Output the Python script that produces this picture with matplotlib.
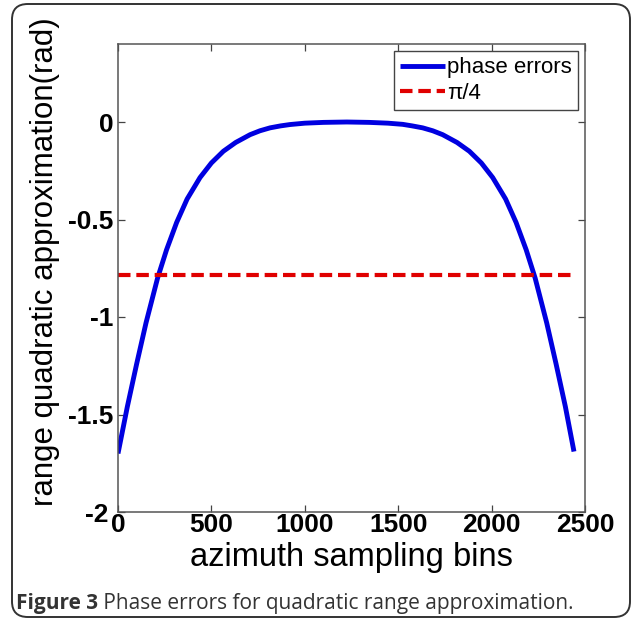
import numpy as np
import matplotlib
matplotlib.use("Agg")
import matplotlib.pyplot as plt
from matplotlib.patches import FancyBboxPatch
from matplotlib.transforms import ScaledTranslation

# values
bins = [0, 50, 100, 150, 212, 260, 314, 370, 439, 500, 564, 630, 707, 760, 814,
        870, 921, 1000, 1100, 1225, 1345, 1445, 1524, 1575, 1631, 1685, 1738,
        1815, 1881, 1945, 2006, 2075, 2131, 2185, 2233, 2295, 2345, 2395, 2441]
phase_err = [-1.70, -1.46, -1.24, -1.03, -0.80, -0.655, -0.515, -0.395, -0.285, -0.21,
             -0.15, -0.105, -0.065, -0.045, -0.03, -0.02, -0.013, -0.006, -0.002, 0.0,
             -0.002, -0.006, -0.012, -0.02, -0.03, -0.045, -0.065, -0.105, -0.15,
             -0.21, -0.285, -0.395, -0.515, -0.655, -0.80, -1.03, -1.24, -1.46, -1.69]
ref_x = [0, 2441]
ref_y = [-np.pi / 4, -np.pi / 4]

xticks = [0, 500, 1000, 1500, 2000, 2500]
yticks = [-2, -1.5, -1, -0.5, 0]
ytick_labels = ['-2', '-1.5', '-1', '-0.5', '0']

fig = plt.figure(figsize=(6.35, 6.21), dpi=100)
ax = fig.add_axes([118/635, 1-512/621, 467/635, 468/621])

ax.plot(bins, phase_err, color='#0000e0', lw=3.5, label='phase errors',
        solid_capstyle='butt', solid_joinstyle='round')
ax.plot(ref_x, ref_y, color='#e00000', lw=3.0, ls=(0, (3.0, 1.4)), label='π/4')

ax.set_xlim(0, 2500)
ax.set_ylim(-2, 0.4)
ax.set_xticks(xticks)
ax.set_yticks(yticks)
ax.set_yticklabels(ytick_labels)

ax.tick_params(direction='in', length=5, width=0.9, color='#444444',
               top=True, right=True, pad=3)
ax.tick_params(axis='x', pad=1)

for lab in ax.get_xticklabels() + ax.get_yticklabels():
    lab.set_family('Liberation Sans')
    lab.set_weight('bold')
    lab.set_size(19)

# nudge "-2" left so it doesn't run into the "0" under the corner
lab_m2 = ax.yaxis.get_major_ticks()[0].label1
lab_m2.set_transform(lab_m2.get_transform() +
                     ScaledTranslation(-5/100, 0, fig.dpi_scale_trans))

for sp in ax.spines.values():
    sp.set_color('#555555')
    sp.set_linewidth(1.1)

ax.set_xlabel('azimuth sampling bins', family='Liberation Sans', size=23.5)
ax.xaxis.set_label_coords(0.5, -0.064)
ax.set_ylabel('range quadratic approximation(rad)', family='Liberation Sans', size=22.5)
ax.yaxis.set_label_coords(-0.125, 0.535)

leg = ax.legend(loc='upper right', prop=dict(family='Liberation Sans', size=16),
                handlelength=2.0, handletextpad=0.1, borderaxespad=0.3,
                fancybox=False, framealpha=1, edgecolor='#444444',
                borderpad=0.3, labelspacing=0.2)
leg.get_frame().set_linewidth(1.0)

# rounded frame around the whole figure
box = FancyBboxPatch((12/635, 4/621), 618/635, 613/621,
                     boxstyle='round,pad=0,rounding_size=0.025',
                     transform=fig.transFigure, fill=False,
                     edgecolor='#333333', lw=1.4)
fig.patches.append(box)

t1 = fig.text(16/635, 1-609/621, 'Figure 3', family='Open Sans', weight='bold',
              size=15, color='#333333')
ax.annotate(' Phase errors for quadratic range approximation.', xy=(1, 0),
            xycoords=t1, family='Open Sans', size=15, color='#333333',
            va='bottom', annotation_clip=False)

fig.savefig('out.png', dpi=100)
